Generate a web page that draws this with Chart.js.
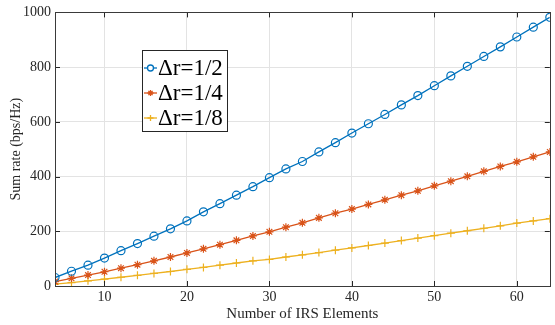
<!DOCTYPE html>
<html>
<head>
<meta charset="utf-8">
<script src="https://cdn.jsdelivr.net/npm/chart.js@4.4.1/dist/chart.umd.min.js"></script>
<style>
  html, body { margin: 0; padding: 0; background: #fff; }
  #wrap { width: 555px; height: 325px; }
</style>
</head>
<body>
<div id="wrap"><canvas id="rateChart" width="555" height="325"></canvas></div>
<script>
// number of IRS elements
const elements = [4, 6, 8, 10, 12, 14, 16, 18, 20, 22, 24, 26, 28, 30, 32, 34,
    36, 38, 40, 42, 44, 46, 48, 50, 52, 54, 56, 58, 60, 62, 64];

// sum rate (bps/Hz)
const rateHalf = [31, 54, 76, 102, 129, 155, 182, 209, 238, 271, 301, 332, 363, 396, 428, 455,
    490, 524, 559, 593, 627, 662, 696, 732, 768, 803, 839, 874, 910, 946, 982];
const rateQuarter = [16, 28, 40, 52, 65, 78, 92, 106, 121, 136, 151, 167, 183, 198, 215, 231,
    249, 266, 281, 298, 315, 332, 348, 366, 383, 401, 419, 437, 454, 472, 490];
const rateEighth = [7, 12, 19, 25, 32, 39, 46, 53, 61, 68, 76, 84, 92, 97, 106, 114,
    122, 131, 139, 148, 157, 166, 175, 184, 193, 202, 211, 220, 230, 238, 246];

const xTicks = [10, 20, 30, 40, 50, 60];
const seriesLabels = ['\u0394r=1/2', '\u0394r=1/4', '\u0394r=1/8'];

const serif = "'Liberation Serif', 'Times New Roman', serif";
const axisColor = '#262626';

function toPoints(ys) {
    return elements.map(function(x, i) { return { x: x, y: ys[i] }; });
}

// MATLAB style box + inward ticks
const boxPlugin = {
    id: 'boxTicks',
    afterDatasetsDraw: function(chart) {
        const ctx = chart.ctx;
        const a = chart.chartArea;
        const xs = chart.scales.x, ys = chart.scales.y;
        ctx.save();
        ctx.strokeStyle = axisColor;
        ctx.lineWidth = 1;
        ctx.beginPath();
        xs.ticks.forEach(function(t) {
            const px = Math.round(xs.getPixelForValue(t.value)) + 0.5;
            ctx.moveTo(px, a.bottom); ctx.lineTo(px, a.bottom - 5);
            ctx.moveTo(px, a.top); ctx.lineTo(px, a.top + 5);
        });
        ys.ticks.forEach(function(t) {
            const py = Math.round(ys.getPixelForValue(t.value)) + 0.5;
            ctx.moveTo(a.left, py); ctx.lineTo(a.left + 5, py);
            ctx.moveTo(a.right, py); ctx.lineTo(a.right - 5, py);
        });
        ctx.stroke();
        ctx.strokeStyle = '#3a3a3a';
        ctx.strokeRect(Math.round(a.left) + 0.5, Math.round(a.top) + 0.5,
            Math.round(a.right - a.left), Math.round(a.bottom - a.top));
        ctx.restore();
    }
};

// legend box inside the plot
const legendPlugin = {
    id: 'innerLegend',
    afterDraw: function(chart) {
        const ctx = chart.ctx;
        const bx = 142, by = 50, bw = 85, bh = 81;
        ctx.save();
        ctx.fillStyle = '#fff';
        ctx.fillRect(bx, by, bw, bh);
        ctx.strokeStyle = '#262626';
        ctx.lineWidth = 1;
        ctx.strokeRect(bx + 0.5, by + 0.5, bw, bh);
        chart.data.datasets.forEach(function(ds, i) {
            const cy = by + 18 + i * 25;
            ctx.strokeStyle = ds.borderColor;
            ctx.lineWidth = 1.3;
            ctx.beginPath();
            ctx.moveTo(bx + 2, cy); ctx.lineTo(bx + 15, cy);
            ctx.stroke();
            Chart.helpers.drawPoint(ctx, {
                pointStyle: ds.pointStyle, radius: 3, borderWidth: 1.2, rotation: 0
            }, bx + 8.5, cy);
            ctx.fillStyle = '#000';
            ctx.font = '23px ' + serif;
            ctx.textBaseline = 'middle';
            ctx.fillText(seriesLabels[i], bx + 16, cy + 1);
        });
        ctx.restore();
    }
};

function pointSetup(color, style, radius) {
    return {
        borderColor: color,
        backgroundColor: color,
        pointBorderColor: color,
        pointBackgroundColor: style === 'circle' ? 'rgba(0,0,0,0)' : color,
        pointStyle: style,
        pointRadius: radius,
        pointBorderWidth: 1.2,
        borderWidth: 1.3,
        tension: 0,
        fill: false
    };
}

new Chart(document.getElementById('rateChart').getContext('2d'), {
    type: 'line',
    data: {
        datasets: [
            Object.assign({ label: seriesLabels[0], data: toPoints(rateHalf) }, pointSetup('#0072BD', 'circle', 4)),
            Object.assign({ label: seriesLabels[1], data: toPoints(rateQuarter) }, pointSetup('#D95319', 'star', 4)),
            Object.assign({ label: seriesLabels[2], data: toPoints(rateEighth) }, pointSetup('#EDB120', 'cross', 4))
        ]
    },
    options: {
        responsive: false,
        animation: false,
        layout: { padding: { top: 8, right: 2, left: 0, bottom: 0 } },
        plugins: { legend: { display: false }, tooltip: { enabled: false } },
        scales: {
            x: {
                type: 'linear',
                min: 4,
                max: 64,
                afterBuildTicks: function(scale) {
                    scale.ticks = xTicks.map(function(v) { return { value: v }; });
                },
                afterFit: function(scale) { scale.height = 39; },
                grid: { color: '#e3e3e3', drawTicks: false },
                border: { display: false },
                ticks: {
                    color: axisColor, padding: 3, maxRotation: 0,
                    font: { family: serif, size: 14 },
                    callback: function(v) { return String(v); }
                },
                title: {
                    display: true,
                    text: 'Number of IRS Elements',
                    color: axisColor,
                    padding: { top: 0, bottom: 2 },
                    font: { family: serif, size: 15 }
                }
            },
            y: {
                min: 0,
                max: 1000,
                afterFit: function(scale) { scale.width = 55; },
                grid: { color: '#e3e3e3', drawTicks: false },
                border: { display: false },
                ticks: {
                    stepSize: 200, color: axisColor, padding: 4,
                    font: { family: serif, size: 14 },
                    callback: function(v) { return String(v); }
                },
                title: {
                    display: true,
                    text: 'Sum rate (bps/Hz)',
                    color: axisColor,
                    padding: { top: 8, bottom: 0 },
                    font: { family: serif, size: 14 }
                }
            }
        }
    },
    plugins: [boxPlugin, legendPlugin]
});
</script>
</body>
</html>
